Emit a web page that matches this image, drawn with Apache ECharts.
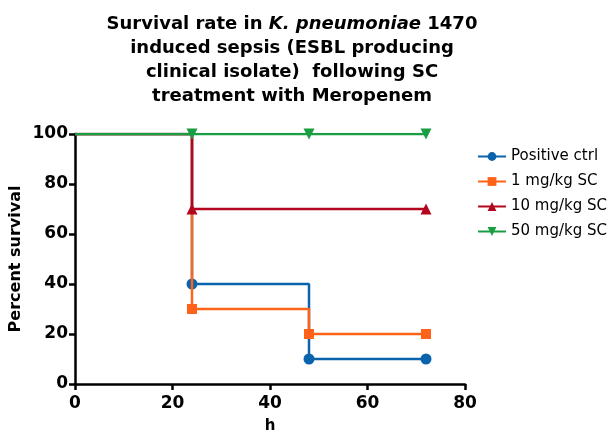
<!DOCTYPE html>
<html><head><meta charset="utf-8">
<script src="https://cdn.jsdelivr.net/npm/echarts@6/dist/echarts.min.js"></script>
<style>html,body{margin:0;padding:0;background:#fff}#c{width:614px;height:432px}</style>
</head><body><div id="c"></div>
<script>
const seriesNames = ['Positive ctrl', '1 mg/kg SC', '10 mg/kg SC', '50 mg/kg SC'];
const times = [0, 24, 48, 72];
const positiveCtrl = [100, 40, 10, 10];
const mg1 = [100, 30, 20, 20];
const mg10 = [100, 70, 70, 70];
const mg50 = [100, 100, 100, 100];
// which points carry a marker (0 = no marker)
const markPositive = [0, 1, 1, 1];
const mark1 = [0, 1, 1, 1];
const mark10 = [0, 1, 0, 1];
const mark50 = [0, 1, 1, 1];
const xTicks = [0, 20, 40, 60, 80];
const yTicks = [0, 20, 40, 60, 80, 100];

const colors = ['#0a63ad', '#ff6319', '#b3061f', '#1a9e43'];
const symbols = ['circle', 'rect', 'triangle', 'triangle'];
const rotations = [0, 0, 0, 180];
const values = [positiveCtrl, mg1, mg10, mg50];
const marks = [markPositive, mark1, mark10, mark50];

const FONT = 'DejaVu Sans';
const chart = echarts.init(document.getElementById('c'));
chart.setOption({
  animation: false,
  title: {
    text: '{b|Survival rate in }{i|K. pneumoniae}{b| 1470}\n{b|induced sepsis (ESBL producing}\n{b|clinical isolate)  following SC}\n{b|treatment with Meropenem}',
    left: 287, top: 7, textAlign: 'center',
    textStyle: {
      fontFamily: FONT, fontSize: 18, fontWeight: 'bold', color: '#000', lineHeight: 24,
      rich: {
        b: {fontFamily: FONT, fontSize: 18, fontWeight: 'bold', color: '#000', lineHeight: 24},
        i: {fontFamily: FONT, fontSize: 18, fontWeight: 'bold', fontStyle: 'italic', color: '#000', lineHeight: 24}
      }
    }
  },
  legend: {
    orient: 'vertical', left: 472, top: 144, itemGap: 10, itemWidth: 28, itemHeight: 11,
    textStyle: {fontFamily: FONT, fontSize: 15, color: '#000'},
    data: seriesNames
  },
  grid: {left: 75, right: 149, top: 134, bottom: 48, containLabel: false, outerBoundsMode: 'none'},
  xAxis: {
    type: 'value', min: 0, max: 80, interval: 20,
    name: 'h', nameLocation: 'middle', nameGap: 35, nameMoveOverlap: false,
    nameTextStyle: {fontFamily: FONT, fontSize: 15, fontWeight: 'bold', color: '#000'},
    axisLine: {show: true, lineStyle: {color: '#000', width: 2.5}},
    axisTick: {show: true, length: 6, lineStyle: {color: '#000', width: 2.5}},
    axisLabel: {fontFamily: FONT, fontSize: 17, fontWeight: 'bold', color: '#000', margin: 11,
      formatter: v => xTicks.includes(v) ? String(v) : ''},
    splitLine: {show: false}
  },
  yAxis: {
    type: 'value', min: 0, max: 100, interval: 20,
    name: 'Percent survival', nameLocation: 'middle', nameGap: 51, nameMoveOverlap: false,
    nameTextStyle: {fontFamily: FONT, fontSize: 16, fontWeight: 'bold', color: '#000'},
    axisLine: {show: true, lineStyle: {color: '#000', width: 2.5}},
    axisTick: {show: true, length: 6, lineStyle: {color: '#000', width: 2.5}},
    axisLabel: {fontFamily: FONT, fontSize: 17, fontWeight: 'bold', color: '#000', margin: 7,
      formatter: v => yTicks.includes(v) ? String(v) : ''},
    splitLine: {show: false}
  },
  series: values.map((vals, k) => ({
    name: seriesNames[k], type: 'line', step: 'end',
    color: colors[k],
    symbol: symbols[k], symbolSize: symbols[k] === 'rect' ? 10 : 11, symbolRotate: rotations[k],
    showAllSymbol: true,
    lineStyle: {width: 2.5, color: colors[k]},
    itemStyle: {color: colors[k]},
    z: 2 + k,
    data: times.map((t, i) => marks[k][i] ? [t, vals[i]] : {value: [t, vals[i]], symbol: 'none'})
  }))
});
</script></body></html>
